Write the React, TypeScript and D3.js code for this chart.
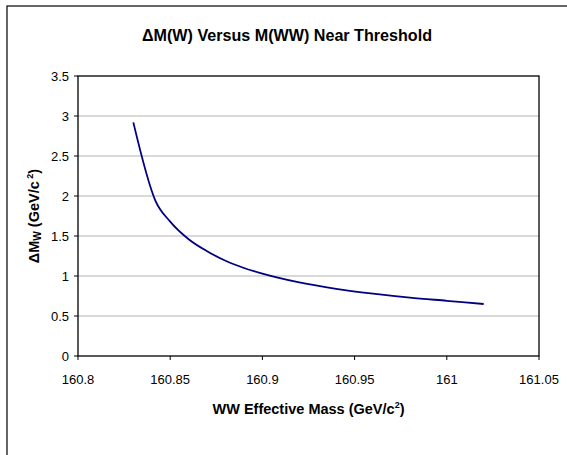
import React from "react";
import * as d3 from "d3";

// WW effective mass (GeV/c^2) and resulting W mass uncertainty
const massWW = [160.83, 160.842, 160.85, 160.86, 160.87, 160.88, 160.89, 160.9, 160.92, 160.94, 160.96, 160.98, 161.0, 161.02];
const deltaMW = [2.92, 1.94, 1.68, 1.46, 1.31, 1.19, 1.1, 1.03, 0.92, 0.84, 0.78, 0.73, 0.69, 0.65];

const xTicks = [160.8, 160.85, 160.9, 160.95, 161, 161.05];
const yTicks = [0, 0.5, 1, 1.5, 2, 2.5, 3, 3.5];

const W = 567;
const H = 455;
const margin = { left: 78, right: 28, top: 76, bottom: 99 };

export default function App() {
  const x = d3.scaleLinear().domain([160.8, 161.05]).range([margin.left, W - margin.right]);
  const y = d3.scaleLinear().domain([0, 3.5]).range([H - margin.bottom, margin.top]);

  const points = massWW.map((m, i) => [m, deltaMW[i]] as [number, number]);
  const line = d3
    .line<[number, number]>()
    .x(d => x(d[0]))
    .y(d => y(d[1]))
    .curve(d3.curveMonotoneX);

  const font = "'Liberation Sans', Arial, sans-serif";
  const x0 = x(160.8);
  const x1 = x(161.05);
  const y0 = y(0);
  const y1 = y(3.5);

  return (
    <svg
      width={W}
      height={H}
      style={{ position: "absolute", left: 0, top: 0, background: "#fff" }}
      fontFamily={font}
    >
      {/* outer chart frame */}
      <rect x={7} y={6} width={W} height={H} fill="#fff" stroke="#000" strokeWidth={1.2} />

      <text x={287} y={41} textAnchor="middle" fontSize={16} fontWeight="bold" textLength={290} lengthAdjust="spacingAndGlyphs">
        ΔM(W) Versus M(WW) Near Threshold
      </text>

      {/* gridlines */}
      {yTicks.slice(1, -1).map(t => (
        <line key={"g" + t} x1={x0} x2={x1} y1={y(t)} y2={y(t)} stroke="#b3b3b3" strokeWidth={1} />
      ))}

      {/* plot frame */}
      <rect x={x0} y={y1} width={x1 - x0} height={y0 - y1} fill="none" stroke="#000" strokeWidth={1.3} />

      {/* y ticks */}
      {yTicks.map(t => (
        <g key={"y" + t}>
          <line x1={x0 - 4} x2={x0} y1={y(t)} y2={y(t)} stroke="#000" />
          <text x={69} y={y(t)} dy="0.36em" textAnchor="end" fontSize={13}>
            {t}
          </text>
        </g>
      ))}

      {/* x ticks */}
      {xTicks.map(t => (
        <g key={"x" + t}>
          <line x1={x(t)} x2={x(t)} y1={y0} y2={y0 + 4} stroke="#000" />
          <text x={x(t)} y={384} textAnchor="middle" fontSize={13}>
            {t}
          </text>
        </g>
      ))}

      <path d={line(points) || ""} fill="none" stroke="#000080" strokeWidth={1.8} />

      {/* axis titles */}
      <text x={(x0 + x1) / 2} y={414} textAnchor="middle" fontSize={14.5} fontWeight="bold">
        WW Effective Mass (GeV/c<tspan fontSize={9} dy={-6}>2</tspan>
        <tspan dy={6}>)</tspan>
      </text>

      <text
        transform={`translate(39, ${(y0 + y1) / 2}) rotate(-90)`}
        textAnchor="middle"
        fontSize={14.5}
        fontWeight="bold"
      >
        ΔM<tspan fontSize={10} dy={2}>W</tspan>
        <tspan dy={-2}> (GeV/c</tspan>
        <tspan fontSize={9} dy={-6}> 2</tspan>
        <tspan dy={6}>)</tspan>
      </text>
    </svg>
  );
}
